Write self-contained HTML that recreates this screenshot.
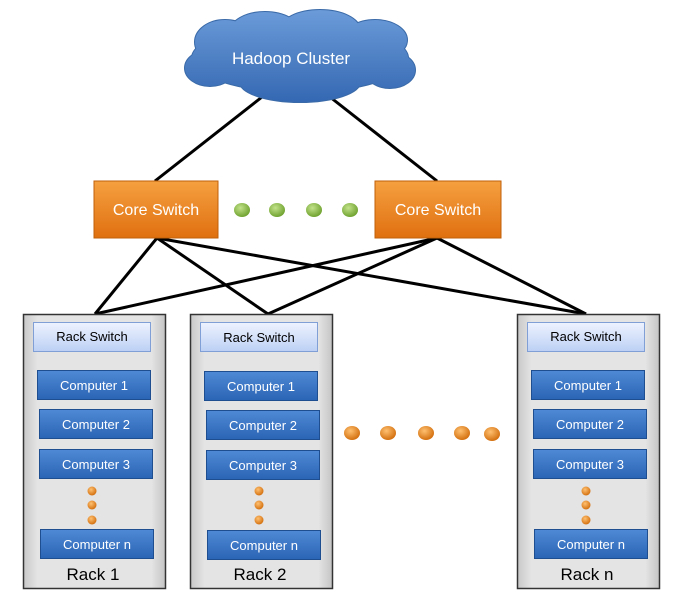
<!DOCTYPE html>
<html><head><style>
body{margin:0;background:#fff;}
svg{display:block;font-family:"Liberation Sans",sans-serif;}
</style></head><body>
<svg width="680" height="601" viewBox="0 0 680 601" xmlns="http://www.w3.org/2000/svg">
<defs>
<linearGradient id="rack" x1="0" y1="0" x2="1" y2="0">
<stop offset="0" stop-color="#c8c8c8"/><stop offset="0.1" stop-color="#e4e4e4"/><stop offset="0.9" stop-color="#e4e4e4"/><stop offset="1" stop-color="#c4c4c4"/></linearGradient>
<linearGradient id="rs" x1="0" y1="0" x2="0" y2="1">
<stop offset="0" stop-color="#eef3ff"/><stop offset="1" stop-color="#bcd0f4"/></linearGradient>
<linearGradient id="comp" x1="0" y1="0" x2="0" y2="1">
<stop offset="0" stop-color="#4f8ad6"/><stop offset="1" stop-color="#2a64b4"/></linearGradient>
<linearGradient id="core" x1="0" y1="0" x2="0" y2="1">
<stop offset="0" stop-color="#f5a040"/><stop offset="1" stop-color="#e07010"/></linearGradient>
<radialGradient id="gd" cx="0.4" cy="0.35" r="0.7"><stop offset="0" stop-color="#c2e28a"/><stop offset="1" stop-color="#6a9e2a"/></radialGradient>
<radialGradient id="od" cx="0.4" cy="0.35" r="0.7"><stop offset="0" stop-color="#ffc070"/><stop offset="1" stop-color="#d06a08"/></radialGradient>
<linearGradient id="cl" gradientUnits="userSpaceOnUse" x1="0" y1="12" x2="0" y2="102"><stop offset="0" stop-color="#6a9ad8"/><stop offset="1" stop-color="#3468b2"/></linearGradient>
<g id="cloud">
<ellipse cx="300" cy="58" rx="108" ry="34"/>
<ellipse cx="225" cy="42" rx="30" ry="22"/>
<ellipse cx="265" cy="32" rx="35" ry="20"/>
<ellipse cx="320" cy="30" rx="40" ry="20"/>
<ellipse cx="375" cy="40" rx="32" ry="20"/>
<ellipse cx="210" cy="68" rx="25" ry="18"/>
<ellipse cx="390" cy="70" rx="25" ry="18"/>
<ellipse cx="300" cy="82" rx="60" ry="20"/>
</g>
</defs>
<g stroke="#000" stroke-width="3" fill="none">
<line x1="262" y1="97" x2="155" y2="181"/>
<line x1="330" y1="97" x2="437" y2="181"/>
<line x1="157" y1="238" x2="95" y2="314"/>
<line x1="157" y1="238" x2="268" y2="314"/>
<line x1="157" y1="238" x2="586" y2="314"/>
<line x1="437" y1="238" x2="95" y2="314"/>
<line x1="437" y1="238" x2="268" y2="314"/>
<line x1="437" y1="238" x2="586" y2="314"/>
</g>
<use href="#cloud" fill="#3a6aa8" stroke="#3a6aa8" stroke-width="2"/>
<use href="#cloud" fill="url(#cl)"/>
<text x="291" y="64" font-size="17" fill="#fff" text-anchor="middle">Hadoop Cluster</text>

<rect x="94" y="181" width="124" height="57" fill="url(#core)" stroke="#c0600a"/>
<text x="156" y="215" font-size="16" fill="#fff" text-anchor="middle">Core Switch</text>
<rect x="375" y="181" width="126" height="57" fill="url(#core)" stroke="#c0600a"/>
<text x="438" y="215" font-size="16" fill="#fff" text-anchor="middle">Core Switch</text>
<g fill="url(#gd)"><ellipse cx="242" cy="210" rx="8" ry="7"/><ellipse cx="277" cy="210" rx="8" ry="7"/><ellipse cx="314" cy="210" rx="8" ry="7"/><ellipse cx="350" cy="210" rx="8" ry="7"/></g>
<g fill="url(#od)"><ellipse cx="352" cy="433" rx="8" ry="7"/><ellipse cx="388" cy="433" rx="8" ry="7"/><ellipse cx="426" cy="433" rx="8" ry="7"/><ellipse cx="462" cy="433" rx="8" ry="7"/><ellipse cx="492" cy="434" rx="8" ry="7"/></g>

<g>
<rect x="23.5" y="314.5" width="142" height="274" fill="url(#rack)" stroke="#333" stroke-width="1.5"/>
<rect x="33.5" y="322.5" width="117" height="29" fill="url(#rs)" stroke="#7f9fd6"/>
<text x="92" y="341" font-size="13" fill="#000" text-anchor="middle">Rack Switch</text>
<rect x="37.5" y="370.5" width="113" height="29" fill="url(#comp)" stroke="#1f4e90"/>
<text x="94" y="390" font-size="13" fill="#fff" text-anchor="middle">Computer  1</text>
<rect x="39.5" y="409.5" width="113" height="29" fill="url(#comp)" stroke="#1f4e90"/>
<text x="96" y="429" font-size="13" fill="#fff" text-anchor="middle">Computer  2</text>
<rect x="39.5" y="449.5" width="113" height="29" fill="url(#comp)" stroke="#1f4e90"/>
<text x="96" y="469" font-size="13" fill="#fff" text-anchor="middle">Computer  3</text>
<g fill="url(#od)"><circle cx="92" cy="491" r="4.5"/><circle cx="92" cy="505" r="4.5"/><circle cx="92" cy="520" r="4.5"/></g>
<rect x="40.5" y="529.5" width="113" height="29" fill="url(#comp)" stroke="#1f4e90"/>
<text x="97" y="549" font-size="13" fill="#fff" text-anchor="middle">Computer  n</text>
<text x="93" y="580" font-size="17" fill="#000" text-anchor="middle">Rack 1</text>
</g>
<g transform="translate(167,0)">
<rect x="23.5" y="314.5" width="142" height="274" fill="url(#rack)" stroke="#333" stroke-width="1.5"/>
<rect x="33.5" y="322.5" width="117" height="29" fill="url(#rs)" stroke="#7f9fd6"/>
<text x="92" y="342" font-size="13" fill="#000" text-anchor="middle">Rack Switch</text>
<rect x="37.5" y="371.5" width="113" height="29" fill="url(#comp)" stroke="#1f4e90"/>
<text x="94" y="391" font-size="13" fill="#fff" text-anchor="middle">Computer  1</text>
<rect x="39.5" y="410.5" width="113" height="29" fill="url(#comp)" stroke="#1f4e90"/>
<text x="96" y="430" font-size="13" fill="#fff" text-anchor="middle">Computer  2</text>
<rect x="39.5" y="450.5" width="113" height="29" fill="url(#comp)" stroke="#1f4e90"/>
<text x="96" y="470" font-size="13" fill="#fff" text-anchor="middle">Computer  3</text>
<g fill="url(#od)"><circle cx="92" cy="491" r="4.5"/><circle cx="92" cy="505" r="4.5"/><circle cx="92" cy="520" r="4.5"/></g>
<rect x="40.5" y="530.5" width="113" height="29" fill="url(#comp)" stroke="#1f4e90"/>
<text x="97" y="550" font-size="13" fill="#fff" text-anchor="middle">Computer  n</text>
<text x="93" y="580" font-size="17" fill="#000" text-anchor="middle">Rack 2</text>
</g>
<g transform="translate(494,0)">
<rect x="23.5" y="314.5" width="142" height="274" fill="url(#rack)" stroke="#333" stroke-width="1.5"/>
<rect x="33.5" y="322.5" width="117" height="29" fill="url(#rs)" stroke="#7f9fd6"/>
<text x="92" y="341" font-size="13" fill="#000" text-anchor="middle">Rack Switch</text>
<rect x="37.5" y="370.5" width="113" height="29" fill="url(#comp)" stroke="#1f4e90"/>
<text x="94" y="390" font-size="13" fill="#fff" text-anchor="middle">Computer  1</text>
<rect x="39.5" y="409.5" width="113" height="29" fill="url(#comp)" stroke="#1f4e90"/>
<text x="96" y="429" font-size="13" fill="#fff" text-anchor="middle">Computer  2</text>
<rect x="39.5" y="449.5" width="113" height="29" fill="url(#comp)" stroke="#1f4e90"/>
<text x="96" y="469" font-size="13" fill="#fff" text-anchor="middle">Computer  3</text>
<g fill="url(#od)"><circle cx="92" cy="491" r="4.5"/><circle cx="92" cy="505" r="4.5"/><circle cx="92" cy="520" r="4.5"/></g>
<rect x="40.5" y="529.5" width="113" height="29" fill="url(#comp)" stroke="#1f4e90"/>
<text x="97" y="549" font-size="13" fill="#fff" text-anchor="middle">Computer  n</text>
<text x="93" y="580" font-size="17" fill="#000" text-anchor="middle">Rack n</text>
</g>
</svg>
</body></html>
